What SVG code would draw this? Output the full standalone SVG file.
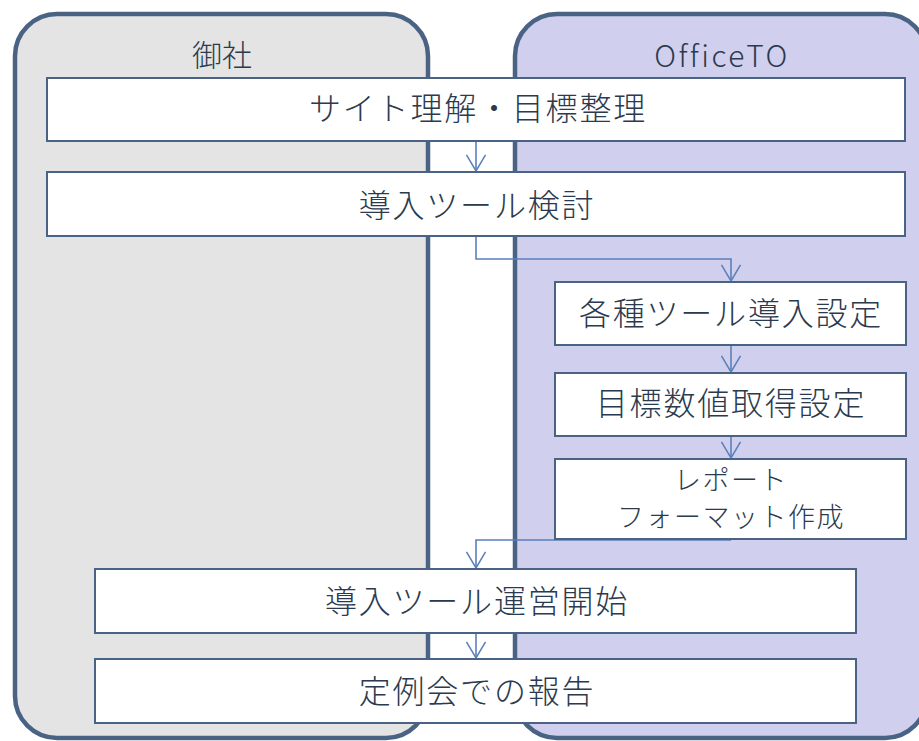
<svg xmlns="http://www.w3.org/2000/svg" width="919" height="741" viewBox="0 0 919 741">
<style>
.lane{stroke:#4A6385;stroke-width:4.5}
.node rect{fill:#FFFFFF;stroke:#4A6385;stroke-width:2}
text{font-family:"Noto Sans CJK JP","Noto Sans",sans-serif;font-weight:300;fill:#2B3A4E;text-anchor:middle}
.t{font-size:32px;letter-spacing:1.8px}
.s{font-size:27px;letter-spacing:1.5px}
.h{font-size:30px}
.c{fill:none;stroke:#5B80BA;stroke-width:1.6}
</style>
<defs>
<marker id="ah" markerUnits="userSpaceOnUse" markerWidth="20" markerHeight="24" viewBox="-19 -12 21 24" refX="0" refY="0" orient="auto">
<path d="M-17,-10 L0,0 L-17,10" fill="none" stroke="#5B80BA" stroke-width="1.6"/>
</marker>
</defs>
<rect width="919" height="741" fill="#FFFFFF"/>
<g id="lane-gosha">
<rect class="lane" x="15" y="14" width="413" height="724" rx="42" fill="#E4E4E4"/>
<text class="h" x="222" y="66">御社</text>
</g>
<g id="lane-officeto">
<rect class="lane" x="515" y="14" width="412" height="724" rx="42" fill="#D0D0EE"/>
<text class="h" x="722" y="67" letter-spacing="2.5">OfficeTO</text>
</g>
<g id="connectors">
<path class="c" d="M476,141 V171" marker-end="url(#ah)"/>
<path class="c" d="M476,236 V259 H731 V281" marker-end="url(#ah)"/>
<path class="c" d="M731,345 V372" marker-end="url(#ah)"/>
<path class="c" d="M731,436 V458" marker-end="url(#ah)"/>
<path class="c" d="M731,540 H476 V568" marker-end="url(#ah)"/>
<path class="c" d="M476,633 V658" marker-end="url(#ah)"/>
</g>
<g id="n1" class="node"><rect x="47" y="78" width="858" height="63"/><text class="t" x="478" y="120">サイト理解・目標整理</text></g>
<g id="n2" class="node"><rect x="47" y="172" width="858" height="64"/><text class="t" x="477" y="217">導入ツール検討</text></g>
<g id="n3" class="node"><rect x="555" y="282" width="351" height="63"/><text class="t" x="731" y="325">各種ツール導入設定</text></g>
<g id="n4" class="node"><rect x="555" y="373" width="351" height="63"/><text class="t" x="731" y="415">目標数値取得設定</text></g>
<g id="n5" class="node"><rect x="555" y="459" width="351" height="80"/><text class="s" x="731" y="490">レポート</text><text class="s" x="731" y="527">フォーマット作成</text></g>
<g id="n6" class="node"><rect x="95" y="569" width="761" height="64"/><text class="t" x="477" y="613">導入ツール運営開始</text></g>
<g id="n7" class="node"><rect x="95" y="659" width="761" height="64"/><text class="t" x="477" y="703">定例会での報告</text></g>
</svg>
